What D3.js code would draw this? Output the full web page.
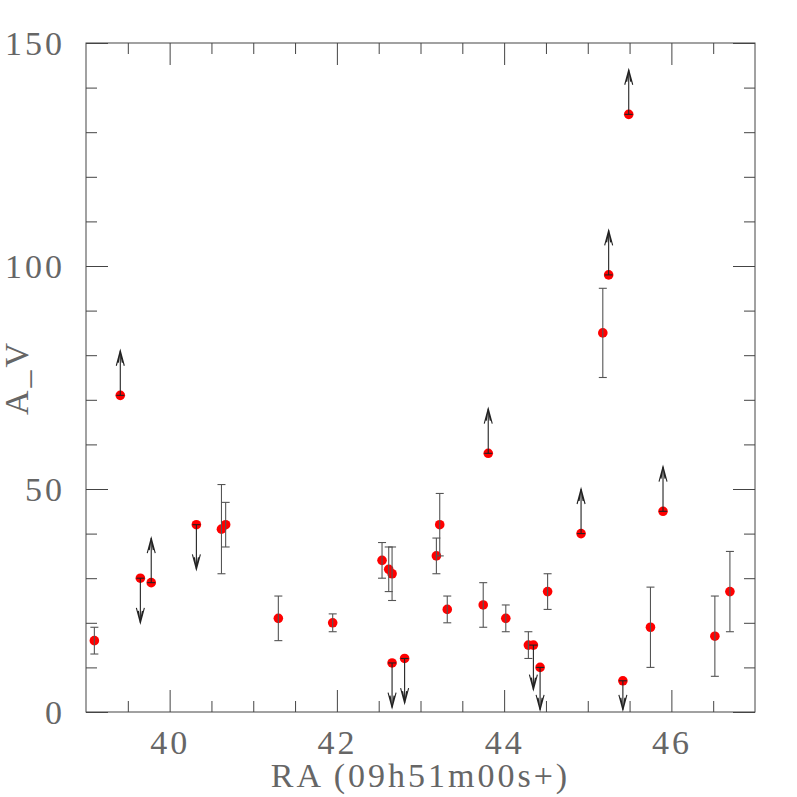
<!DOCTYPE html>
<html>
<head>
<meta charset="utf-8">
<script src="https://cdn.jsdelivr.net/npm/d3@7"></script>
<style>
  body { margin: 0; background: #fff; }
  svg text { font-family: "Liberation Serif", serif; fill: #666; }
</style>
</head>
<body>
<svg id="chart" width="797" height="797"></svg>
<script>
// A_V versus RA offset, with error bars and upper/lower limits

const raValues = [39.1, 39.41, 39.65, 39.78, 40.32, 40.62, 40.67, 41.30, 41.95, 42.54, 42.62,
  42.66, 42.66, 42.81, 43.19, 43.23, 43.32, 43.75, 43.81, 44.02, 44.29, 44.35, 44.43,
  44.52, 44.92, 45.18, 45.25, 45.42, 45.49, 45.75, 45.90, 46.52, 46.70];
const avValues = [16, 71, 30, 29, 42, 41, 42, 21, 20, 34, 32, 31, 11, 12, 35, 42, 23, 24, 58,
  21, 15, 15, 10, 27, 40, 85, 98, 7, 134, 19, 45, 17, 27];
const avErrors = [3, 0, 0, 0, 0, 10, 5, 5, 2, 4, 5, 6, 0, 0, 4, 7, 3, 5, 0, 3, 3, 0, 0, 4, 0,
  10, 0, 0, 0, 9, 0, 9, 9];
// "up" = lower limit (arrow up), "down" = upper limit (arrow down)
const limitType = ["", "up", "down", "up", "down", "", "", "", "", "", "", "", "down", "down",
  "", "", "", "", "up", "", "", "down", "down", "", "up", "", "up", "down", "up", "", "up", "", ""];

const xMajorTicks = [40, 42, 44, 46];
const yMajorTicks = [0, 50, 100, 150];

const data = raValues.map((ra, i) => ({
  ra, av: avValues[i], err: avErrors[i], lim: limitType[i]
}));

const svg = d3.select("#chart");
const margin = {top: 43, right: 42, bottom: 85, left: 86};
const width = 797 - margin.left - margin.right;
const height = 797 - margin.top - margin.bottom;
const arrowLen = 10; // in A_V units

const x = d3.scaleLinear().domain([39, 47]).range([0, width]);
const y = d3.scaleLinear().domain([0, 150]).range([height, 0]);

const g = svg.append("g").attr("transform", `translate(${margin.left},${margin.top})`);

const xMinor = d3.range(39.5, 47, 0.5).filter(v => !xMajorTicks.includes(v));
const yMinor = d3.range(10, 150, 10).filter(v => !yMajorTicks.includes(v));

function tickAxis(axis, pos) {
  const a = g.append("g").attr("transform", pos).call(axis);
  a.select(".domain").remove();
  a.selectAll(".tick line").attr("stroke", "#444");
  return a;
}

// bottom & top ticks
tickAxis(d3.axisBottom(x).tickValues(xMinor).tickSize(-11).tickFormat(""), `translate(0,${height})`);
const xAx = tickAxis(d3.axisBottom(x).tickValues(xMajorTicks).tickSize(-22), `translate(0,${height})`);
xAx.selectAll(".tick text")
  .attr("y", 42).attr("dy", null)
  .style("font-size", "34px").style("letter-spacing", "3px").style("fill", "#666");
tickAxis(d3.axisTop(x).tickValues(xMinor).tickSize(-11).tickFormat(""), "translate(0,0)");
tickAxis(d3.axisTop(x).tickValues(xMajorTicks).tickSize(-22).tickFormat(""), "translate(0,0)");

// left & right ticks
tickAxis(d3.axisLeft(y).tickValues(yMinor).tickSize(-11).tickFormat(""), "translate(0,0)");
const yAx = tickAxis(d3.axisLeft(y).tickValues(yMajorTicks).tickSize(-22), "translate(0,0)");
yAx.selectAll(".tick text")
  .attr("x", -21).attr("dy", "0.34em")
  .style("font-size", "34px").style("letter-spacing", "3px").style("fill", "#666");
tickAxis(d3.axisRight(y).tickValues(yMinor).tickSize(-11).tickFormat(""), `translate(${width},0)`);
tickAxis(d3.axisRight(y).tickValues(yMajorTicks).tickSize(-22).tickFormat(""), `translate(${width},0)`);

// frame
g.append("rect")
  .attr("x", 0).attr("y", 0).attr("width", width).attr("height", height)
  .attr("fill", "none").attr("stroke", "#444").attr("stroke-width", 1);

// points
g.selectAll("circle.pt")
  .data(data)
  .join("circle")
  .attr("class", "pt")
  .attr("cx", d => x(d.ra))
  .attr("cy", d => y(d.av))
  .attr("r", 4.8)
  .attr("fill", "#ff0000");

// error bars
const eb = g.selectAll("g.eb")
  .data(data.filter(d => d.err > 0))
  .join("g")
  .attr("class", "eb")
  .attr("stroke", "#555")
  .attr("stroke-width", 1.1);
eb.append("line")
  .attr("x1", d => x(d.ra)).attr("x2", d => x(d.ra))
  .attr("y1", d => y(d.av - d.err)).attr("y2", d => y(d.av + d.err));
eb.append("line")
  .attr("x1", d => x(d.ra) - 4).attr("x2", d => x(d.ra) + 4)
  .attr("y1", d => y(d.av - d.err)).attr("y2", d => y(d.av - d.err));
eb.append("line")
  .attr("x1", d => x(d.ra) - 4).attr("x2", d => x(d.ra) + 4)
  .attr("y1", d => y(d.av + d.err)).attr("y2", d => y(d.av + d.err));

// limit arrows
const lim = g.selectAll("g.lim")
  .data(data.filter(d => d.lim))
  .join("g")
  .attr("class", "lim")
  .attr("stroke", "#222")
  .attr("stroke-width", 1.1)
  .attr("fill", "none");
const tipVal = d => d.lim === "up" ? d.av + arrowLen : Math.max(d.av - arrowLen, 0.5);
lim.append("line")
  .attr("x1", d => x(d.ra) - 4).attr("x2", d => x(d.ra) + 4)
  .attr("y1", d => y(d.av)).attr("y2", d => y(d.av));
lim.append("line")
  .attr("x1", d => x(d.ra)).attr("x2", d => x(d.ra))
  .attr("y1", d => y(d.av)).attr("y2", d => y(tipVal(d)));
lim.append("path")
  .attr("d", d => {
    const tx = x(d.ra), ty = y(tipVal(d));
    const s = d.lim === "up" ? 1 : -1;
    return `M${tx - 4},${ty + s * 15}L${tx},${ty}L${tx + 4},${ty + s * 15}` +
      `M${tx - 2},${ty + s * 12}L${tx},${ty}L${tx + 2},${ty + s * 12}`;
  });

// axis titles
svg.append("text")
  .attr("x", margin.left + width / 2)
  .attr("y", 787)
  .attr("text-anchor", "middle")
  .style("font-size", "34px")
  .style("letter-spacing", "3px")
  .text("RA (09h51m00s+)");

svg.append("text")
  .attr("transform", `translate(28,${margin.top + height / 2}) rotate(-90)`)
  .attr("text-anchor", "middle")
  .style("font-size", "34px")
  .style("letter-spacing", "3px")
  .text("A_V");
</script>
</body>
</html>
